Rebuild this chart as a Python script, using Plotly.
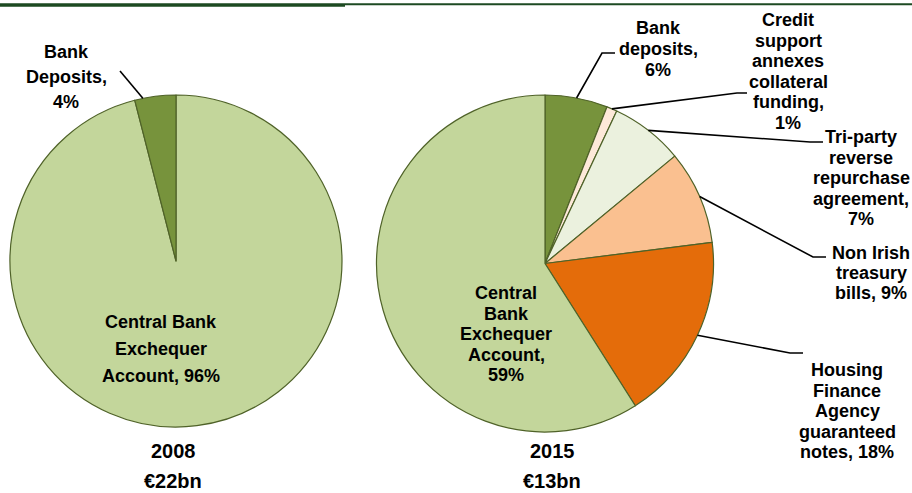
import math
import plotly.graph_objects as go

W, H = 912, 493

# ---- data -------------------------------------------------------------
labels_2008 = ["Central Bank Exchequer Account", "Bank Deposits"]
values_2008 = [96, 4]
colors_2008 = ["#c3d69b", "#77933c"]

labels_2015 = [
    "Bank deposits",
    "Credit support annexes collateral funding",
    "Tri-party reverse repurchase agreement",
    "Non Irish treasury bills",
    "Housing Finance Agency guaranteed notes",
    "Central Bank Exchequer Account",
]
values_2015 = [6, 1, 7, 9, 18, 59]
colors_2015 = ["#77933c", "#fde9d9", "#ebf1de", "#fac090", "#e46c0a", "#c3d69b"]

year_titles = ["2008", "2015"]
totals = ["€22bn", "€13bn"]

# ---- layout helpers ---------------------------------------------------
FONT = "Arial, Liberation Sans, sans-serif"
BORDER = "#4f6228"


def px(x):
    return x / W


def py(y):
    return 1 - y / H


# pie geometry in pixels: (cx, cy, r)
PIE_2008 = (176, 261, 166)
PIE_2015 = (545, 263.5, 168.5)


def domain(geom):
    cx, cy, r = geom
    return dict(x=[px(cx - r), px(cx + r)], y=[py(cy + r), py(cy - r)])


def edge_point(geom, values, idx, frac_in_slice=0.5):
    """Point on the rim inside slice idx (clockwise from 12 o'clock)."""
    cx, cy, r = geom
    total = sum(values)
    start = sum(values[:idx])
    frac = (start + values[idx] * frac_in_slice) / total
    ang = 2 * math.pi * frac
    return cx + r * math.sin(ang), cy - r * math.cos(ang)


fig = go.Figure()

fig.add_trace(go.Pie(
    labels=labels_2008, values=values_2008, sort=False, direction="clockwise",
    rotation=0, textinfo="none", hoverinfo="label+percent",
    marker=dict(colors=colors_2008, line=dict(color=BORDER, width=1.2)),
    domain=domain(PIE_2008), showlegend=False,
))
fig.add_trace(go.Pie(
    labels=labels_2015, values=values_2015, sort=False, direction="clockwise",
    rotation=0, textinfo="none", hoverinfo="label+percent",
    marker=dict(colors=colors_2015, line=dict(color=BORDER, width=1.2)),
    domain=domain(PIE_2015), showlegend=False,
))

annotations = []
shapes = []


def text_block(lines, cx, y_first, spacing, size=18):
    for i, line in enumerate(lines):
        annotations.append(dict(
            x=px(cx), y=py(y_first + i * spacing), xref="paper", yref="paper",
            text=f"<b>{line}</b>", showarrow=False, xanchor="center", yanchor="middle",
            font=dict(family=FONT, size=size, color="#000000"),
        ))


def leader(points):
    path = "M " + " L ".join(f"{px(x)},{py(y)}" for x, y in points)
    shapes.append(dict(type="path", path=path, xref="paper", yref="paper",
                       line=dict(color="#000000", width=1.6)))


# 2008 labels
text_block(["Bank", "Deposits,", f"{values_2008[1]}%"], 66, 52, 25)
leader([edge_point(PIE_2008, values_2008, 1, 0.2), (120, 71)])
text_block(["Central Bank", "Exchequer", f"Account, {values_2008[0]}%"], 161, 322, 27)

# 2015 labels
text_block(["Bank", "deposits,", f"{values_2015[0]}%"], 658, 28, 21)
leader([edge_point(PIE_2015, values_2015, 0), (602, 53), (615, 53)])

text_block(["Credit", "support", "annexes", "collateral", "funding,", f"{values_2015[1]}%"],
           788, 20, 20.6)
leader([edge_point(PIE_2015, values_2015, 1), (737, 93), (747, 93)])

text_block(["Tri-party", "reverse", "repurchase", "agreement,", f"{values_2015[2]}%"],
           861, 137, 20.5)
leader([edge_point(PIE_2015, values_2015, 2), (810, 142), (823, 142)])

text_block(["Non Irish", "treasury", f"bills, {values_2015[3]}%"], 871, 253, 20)
leader([edge_point(PIE_2015, values_2015, 3), (813, 257), (826, 257)])

text_block(["Housing", "Finance", "Agency", "guaranteed", f"notes, {values_2015[4]}%"],
           847, 370, 20.5)
leader([edge_point(PIE_2015, values_2015, 4), (790, 353), (803, 353)])

text_block(["Central", "Bank", "Exchequer", "Account,", f"{values_2015[5]}%"],
           506, 293, 20.5)

# year / total captions
for cx, year, tot in [(173, year_titles[0], totals[0]), (552, year_titles[1], totals[1])]:
    text_block([year, tot], cx, 451, 30, size=20)

# header rule across the top
HEADER = "#1d4a22"
shapes.append(dict(type="rect", xref="paper", yref="paper", x0=0, x1=px(345),
                   y0=py(6.7), y1=py(3.2), fillcolor=HEADER, line=dict(width=0)))
shapes.append(dict(type="rect", xref="paper", yref="paper", x0=px(345), x1=1,
                   y0=py(5.2), y1=py(3.2), fillcolor=HEADER, line=dict(width=0)))

fig.update_layout(
    width=W, height=H, autosize=False,
    margin=dict(l=0, r=0, t=0, b=0),
    paper_bgcolor="#ffffff", plot_bgcolor="#ffffff",
    annotations=annotations, shapes=shapes,
)

fig.write_html("out.html", config={"displayModeBar": False})
